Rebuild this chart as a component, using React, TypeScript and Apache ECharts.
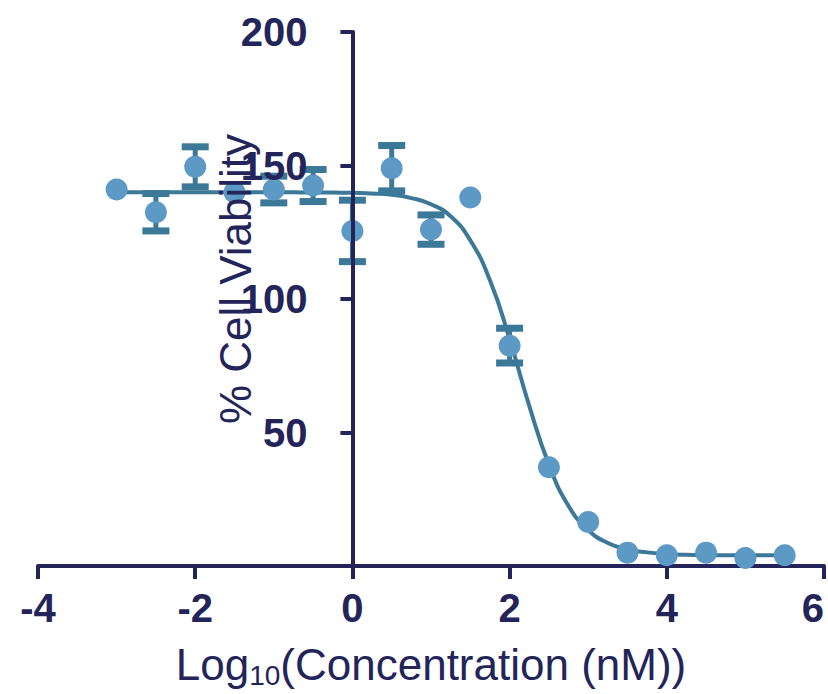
import React, { useEffect, useRef } from "react";
import * as echarts from "echarts";

// Observed points: log10 concentration, mean % viability, error (SEM)
const logConc = [-3, -2.5, -2, -1.5, -1, -0.5, 0, 0.5, 1, 1.5, 2, 2.5, 3, 3.5, 4, 4.5, 5, 5.5];
const viability = [141, 132.5, 149.5, 140, 141, 142.5, 125.5, 149, 126, 138, 82.5, 37, 16.5, 5, 4, 5, 3, 4];
const errorSize = [0, 7, 7.5, 0, 5, 6, 11.5, 8.5, 5.5, 0, 6.5, 0, 0, 0, 0, 0, 0, 0];

// Fitted curve
const curveX = [
  -3, -2.75, -2.5, -2.25, -2, -1.75, -1.5, -1.25, -1, -0.75, -0.5, -0.25, 0, 0.25, 0.5, 0.75, 1,
  1.25, 1.5, 1.75, 2, 2.25, 2.5, 2.75, 3, 3.25, 3.5, 3.75, 4, 4.25, 4.5, 4.75, 5, 5.25, 5.5,
];
const curveY = [
  140, 140, 140, 140, 140, 140, 140, 140, 140, 139.95, 139.9, 139.85, 139.8, 139.5, 139, 137.8, 135.5,
  131, 122, 107, 85, 60, 38, 22.5, 13.5, 8.6, 6.2, 5.1, 4.5, 4.2, 4.1, 4.05, 4, 4, 4,
];

const xTicks = { min: -4, max: 6, interval: 2 };
const yTicks = { min: 0, max: 200, interval: 50 };

const NAVY = "#22245a";
const MARKER = "#5c99c5";
const DARK = "#3c7898";
const FONT = "'Liberation Sans', Arial, sans-serif";
const TICK_FONT = "'Liberation Sans Narrow', 'Arial Narrow', 'Liberation Sans', sans-serif";

const GRID_LEFT = 38;
const GRID_WIDTH = 786;

export default function App() {
  const ref = useRef<HTMLDivElement>(null);
  useEffect(() => {
    if (!ref.current) return;
    const chart = echarts.init(ref.current, undefined, { renderer: "svg" });
    const points = logConc.map((x, i) => [x, viability[i]]);
    const errs = logConc
      .map((x, i) => [x, viability[i] - errorSize[i], viability[i] + errorSize[i], errorSize[i]])
      .filter((d) => d[3] > 0);
    const curve = curveX.map((x, i) => [x, curveY[i]]);
    // y axis sits at x = 0 of the x scale
    const yAxisOffset = -GRID_WIDTH * ((0 - xTicks.min) / (xTicks.max - xTicks.min));

    chart.setOption({
      animation: false,
      backgroundColor: "#ffffff",
      grid: {
        left: GRID_LEFT,
        width: GRID_WIDTH,
        top: 32,
        bottom: 128,
        containLabel: false,
        outerBoundsMode: "none",
      },
      xAxis: {
        type: "value",
        min: xTicks.min,
        max: xTicks.max,
        interval: xTicks.interval,
        splitLine: { show: false },
        axisLine: { show: true, onZero: true, lineStyle: { color: NAVY, width: 4 } },
        axisTick: { show: true, length: 13, lineStyle: { color: NAVY, width: 4 } },
        axisLabel: {
          color: NAVY,
          fontSize: 40,
          fontWeight: "bold",
          fontFamily: TICK_FONT,
          margin: 22,
          showMinLabel: true,
          showMaxLabel: true,
          alignMaxLabel: "right",
        },
      },
      yAxis: {
        type: "value",
        min: yTicks.min,
        max: yTicks.max,
        interval: yTicks.interval,
        offset: yAxisOffset,
        z: 5,
        splitLine: { show: false },
        axisLine: { show: true, onZero: false, lineStyle: { color: NAVY, width: 4 } },
        axisTick: { show: true, length: 12, lineStyle: { color: NAVY, width: 4 } },
        axisLabel: {
          color: NAVY,
          fontSize: 40,
          fontWeight: "bold",
          fontFamily: TICK_FONT,
          margin: 45,
          formatter: (v: number) => (v === 0 ? "" : String(v)),
        },
      },
      series: [
        {
          type: "line",
          data: curve,
          smooth: 0.5,
          showSymbol: false,
          symbol: "none",
          lineStyle: { color: DARK, width: 4 },
          z: 2,
        },
        {
          type: "custom",
          data: errs,
          z: 3,
          renderItem: (params: any, api: any) => {
            const x = api.value(0);
            const lo = api.coord([x, api.value(1)]);
            const hi = api.coord([x, api.value(2)]);
            const capW = 27;
            const capH = 7;
            return {
              type: "group",
              children: [
                {
                  type: "line",
                  shape: { x1: lo[0], y1: lo[1], x2: hi[0], y2: hi[1] },
                  style: { stroke: DARK, lineWidth: 5 },
                },
                {
                  type: "rect",
                  shape: { x: hi[0] - capW / 2, y: hi[1] - capH / 2, width: capW, height: capH },
                  style: { fill: DARK },
                },
                {
                  type: "rect",
                  shape: { x: lo[0] - capW / 2, y: lo[1] - capH / 2, width: capW, height: capH },
                  style: { fill: DARK },
                },
              ],
            };
          },
        },
        {
          type: "scatter",
          data: points,
          symbol: "circle",
          symbolSize: 22,
          itemStyle: { color: MARKER, opacity: 1 },
          z: 4,
        },
      ],
      graphic: [
        {
          type: "text",
          x: 431,
          y: 664,
          z: 100,
          style: {
            text: "{a|Log}{s|10}{a|(Concentration (nM))}",
            align: "center",
            verticalAlign: "middle",
            rich: {
              a: { fontSize: 44, fontFamily: FONT, fill: NAVY, color: NAVY, lineHeight: 44 },
              s: {
                fontSize: 28,
                fontFamily: FONT,
                fill: NAVY,
                color: NAVY,
                lineHeight: 50,
                verticalAlign: "bottom",
              },
            },
          },
        },
        {
          type: "text",
          x: 235,
          y: 279,
          z: 100,
          rotation: Math.PI / 2,
          style: {
            text: "% Cell Viability",
            fontSize: 44,
            fontFamily: FONT,
            fill: NAVY,
            align: "center",
            verticalAlign: "middle",
          },
        },
      ],
    });
    return () => chart.dispose();
  }, []);
  return (
    <div
      ref={ref}
      style={{ position: "fixed", left: 0, top: 0, width: 828, height: 694, background: "#fff" }}
    />
  );
}
